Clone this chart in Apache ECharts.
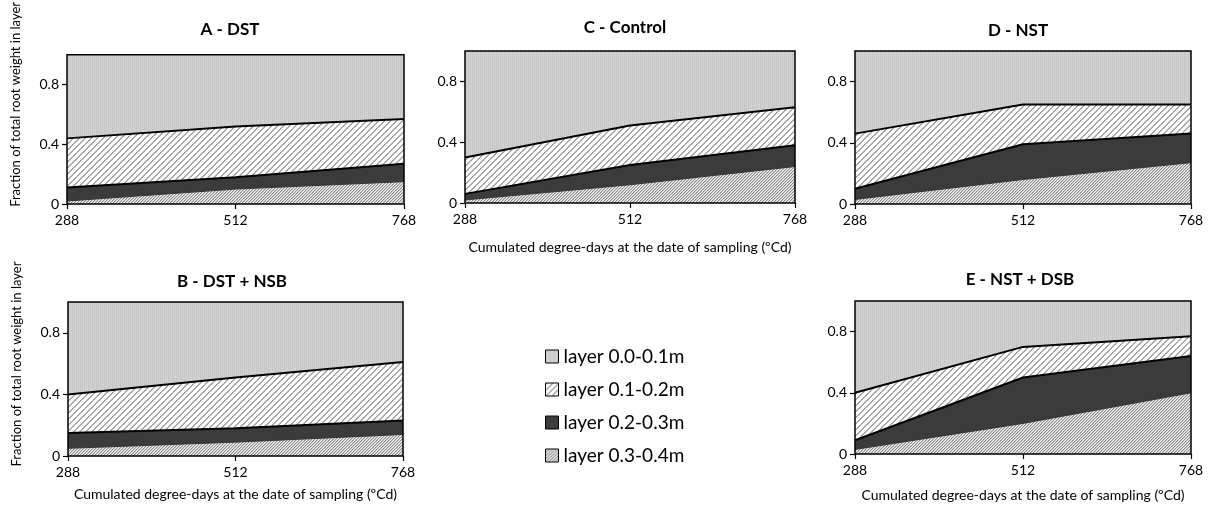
<!DOCTYPE html>
<html lang="en">
<head>
    <meta charset="UTF-8">
    <title>Root weight fraction per layer</title>
    <script src="https://cdn.jsdelivr.net/npm/echarts@6.0.0/dist/echarts.min.js"></script>
    <style>
        html, body { margin: 0; padding: 0; background: #fff; }
        #chart { width: 1213px; height: 513px; }
    </style>
</head>
<body>
    <div id="chart"></div>
    <script type="text/javascript">
    // sampling dates (cumulated degree-days)
    const xLabels = ['288', '512', '768'];
    const yTicks = [0, 0.4, 0.8];
    const layerNames = ['layer 0.0-0.1m', 'layer 0.1-0.2m', 'layer 0.2-0.3m', 'layer 0.3-0.4m'];

    // fraction of total root weight in each layer, per treatment
    // order: layer 0.0-0.1, 0.1-0.2, 0.2-0.3, 0.3-0.4
    const dstA = [
        [0.56, 0.48, 0.43],
        [0.33, 0.34, 0.30],
        [0.09, 0.08, 0.12],
        [0.02, 0.10, 0.15]
    ];
    const controlC = [
        [0.70, 0.49, 0.37],
        [0.24, 0.26, 0.25],
        [0.04, 0.13, 0.14],
        [0.02, 0.12, 0.24]
    ];
    const nstD = [
        [0.54, 0.35, 0.35],
        [0.36, 0.26, 0.19],
        [0.07, 0.23, 0.19],
        [0.03, 0.16, 0.27]
    ];
    const dstNsbB = [
        [0.60, 0.49, 0.39],
        [0.25, 0.33, 0.38],
        [0.10, 0.09, 0.09],
        [0.05, 0.09, 0.14]
    ];
    const nstDsbE = [
        [0.60, 0.30, 0.23],
        [0.31, 0.20, 0.13],
        [0.06, 0.30, 0.24],
        [0.03, 0.20, 0.40]
    ];

    const panelTitles = ['A - DST', 'C - Control', 'D - NST', 'B - DST + NSB', 'E - NST + DSB'];
    const panelData = [dstA, controlC, nstD, dstNsbB, nstDsbE];
    const xName = 'Cumulated degree-days at the date of sampling (ºCd)';
    const yName = 'Fraction of total root weight in layer';

    // grey fill patterns made on small canvases
    function makePattern(size, shade) {
        const c = document.createElement('canvas');
        c.width = size; c.height = size;
        const ctx = c.getContext('2d');
        const img = ctx.createImageData(size, size);
        for (let y = 0; y < size; y++) {
            for (let x = 0; x < size; x++) {
                const v = shade(x, y);
                const i = (y * size + x) * 4;
                img.data[i] = v; img.data[i + 1] = v; img.data[i + 2] = v; img.data[i + 3] = 255;
            }
        }
        ctx.putImageData(img, 0, 0);
        return { image: c, repeat: 'repeat' };
    }
    const fills = [
        makePattern(4, (x) => [198, 208, 202, 210][x % 4]),
        makePattern(6, (x, y) => ((x + y) % 6 < 2 ? 168 : 255)),
        '#3b3b3b',
        makePattern(3, (x, y) => [135, 205, 245][(x + y) % 3])
    ];
    const edges = [
        { width: 0, color: '#000' },
        { width: 2, color: '#000' },
        { width: 2, color: '#000' },
        { width: 1, color: '#333' }
    ];

    // plot boxes in px: left, top, width, height
    const boxes = [
        [67, 51, 337, 153],
        [465, 51, 330, 152],
        [855, 51, 336, 153],
        [68, 302, 335, 154],
        [855, 301, 336, 153]
    ];
    const titlePos = [[225, 16], [620, 14], [1013, 17], [227, 268], [1015, 266]];
    const xNameGap = [0, 37, 0, 31, 34];   // 0 = no axis name
    const hasYName = [true, false, false, true, false];

    var chart = echarts.init(document.getElementById('chart'));
    const font = 'Lato';

    const grids = [], xAxes = [], yAxes = [], series = [], titles = [];
    boxes.forEach((b, p) => {
        grids.push({
            left: b[0], top: b[1], width: b[2], height: b[3],
            show: true, z: 10, backgroundColor: 'transparent',
            borderColor: '#000', borderWidth: 1.5
        });
        titles.push({
            text: panelTitles[p], left: titlePos[p][0], top: titlePos[p][1], textAlign: 'center',
            textStyle: { fontFamily: font, fontSize: 17, fontWeight: 'bold', color: '#000' }
        });
        xAxes.push({
            type: 'category', gridIndex: p, data: xLabels, boundaryGap: false,
            name: xNameGap[p] ? xName : '', nameLocation: 'middle', nameGap: xNameGap[p],
            nameTextStyle: { fontFamily: font, fontSize: 14, color: '#000' },
            axisLine: { show: false },
            axisTick: { show: true, length: 5, lineStyle: { color: '#000', width: 1.2 } },
            axisLabel: { fontFamily: font, fontSize: 14, color: '#000', margin: 9 },
            splitLine: { show: false }
        });
        yAxes.push({
            type: 'value', gridIndex: p, min: 0, max: 1,
            name: hasYName[p] ? yName : '', nameLocation: 'middle', nameGap: 45,
            nameTextStyle: { fontFamily: font, fontSize: 13, color: '#000', padding: [0, 0, 0, p === 0 ? 50 : 30] },
            axisLine: { show: false },
            axisTick: { show: true, length: 5, customValues: yTicks, lineStyle: { color: '#000', width: 1.2 } },
            axisLabel: { fontFamily: font, fontSize: 14, color: '#000', margin: 8, customValues: yTicks },
            splitLine: { show: false }
        });
        // stack from the deepest layer upwards
        for (let k = 3; k >= 0; k--) {
            series.push({
                name: layerNames[k], type: 'line', xAxisIndex: p, yAxisIndex: p,
                stack: 'panel' + p, data: panelData[p][k],
                showSymbol: false, symbol: 'none', silent: true, z: 2,
                lineStyle: edges[k],
                areaStyle: { color: fills[k], opacity: 1 }
            });
        }
    });

    var option = {
        animation: false,
        title: titles,
        grid: grids,
        xAxis: xAxes,
        yAxis: yAxes,
        legend: {
            orient: 'vertical', left: 540, top: 341, itemGap: 12,
            itemWidth: 13, itemHeight: 13, icon: 'rect', selectedMode: false,
            textStyle: { fontFamily: font, fontSize: 19, color: '#000', lineHeight: 21 },
            data: layerNames.map((n, k) => ({
                name: n,
                itemStyle: { color: fills[k], borderColor: '#000', borderWidth: 1 }
            }))
        },
        series: series
    };
    chart.setOption(option);
    </script>
</body>
</html>
